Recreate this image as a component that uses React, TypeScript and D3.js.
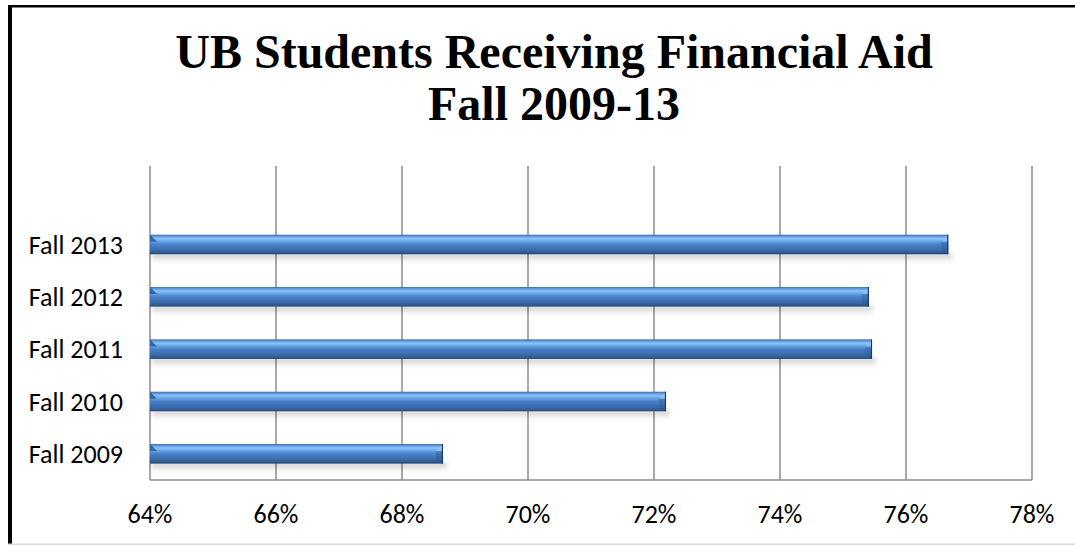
import React from "react";
import * as d3 from "d3";

const categories = ["Fall 2013", "Fall 2012", "Fall 2011", "Fall 2010", "Fall 2009"];
const values = [76.67, 75.41, 75.46, 72.19, 68.65];
const xTicks = [64, 66, 68, 70, 72, 74, 76, 78];
const titleLines = ["UB Students Receiving Financial Aid", "Fall 2009-13"];

const W = 1075;
const H = 545;
const plot = { left: 150, right: 1032, top: 166, bottom: 480 };

export default function App() {
  const x = d3.scaleLinear().domain([64, 78]).range([plot.left, plot.right]);
  const y = d3
    .scaleBand<string>()
    .domain(["", ...categories])
    .range([plot.top, plot.bottom])
    .paddingInner(0.627)
    .paddingOuter(0.3135);
  const bw = y.bandwidth();
  const labelFont = "Carlito, Calibri, 'Open Sans', sans-serif";

  return (
    <svg
      width={W}
      height={H}
      style={{ position: "absolute", left: 0, top: 0, background: "#fff" }}
    >
      <defs>
        <linearGradient id="barGrad" x1="0" y1="0" x2="0" y2="1">
          <stop offset="0" stopColor="#2f5c98" />
          <stop offset="0.07" stopColor="#5a95dc" />
          <stop offset="0.2" stopColor="#8cc4f7" />
          <stop offset="0.34" stopColor="#66a2e6" />
          <stop offset="0.5" stopColor="#4a80c6" />
          <stop offset="0.8" stopColor="#3a69aa" />
          <stop offset="0.92" stopColor="#305b93" />
          <stop offset="1" stopColor="#1f3d66" />
        </linearGradient>
        <linearGradient id="shadowGrad" x1="0" y1="0" x2="0" y2="1">
          <stop offset="0" stopColor="#000" stopOpacity="0.22" />
          <stop offset="1" stopColor="#000" stopOpacity="0" />
        </linearGradient>
        <filter id="blur" x="-5%" y="-50%" width="110%" height="200%">
          <feGaussianBlur stdDeviation="2" />
        </filter>
      </defs>

      {/* outer frame */}
      <rect x={8} y={5} width={W - 8} height={2.5} fill="#000" />
      <rect x={8} y={5} width={4} height={H - 5} fill="#000" />
      <rect x={8} y={543.5} width={W - 8} height={1.5} fill="#d9d9d9" />

      {/* title */}
      <g fontFamily="'Liberation Serif', 'Times New Roman', serif" fontWeight="bold" fontSize={48} textAnchor="middle" fill="#000">
        <text x={554} y={68}>{titleLines[0]}</text>
        <text x={554} y={120}>{titleLines[1]}</text>
      </g>

      {/* gridlines */}
      {xTicks.map((t) => (
        <line
          key={t}
          x1={x(t)}
          x2={x(t)}
          y1={plot.top}
          y2={plot.bottom}
          stroke="#8c8c8c"
          strokeWidth={1.5}
        />
      ))}
      <line x1={plot.left} x2={plot.right} y1={plot.bottom} y2={plot.bottom} stroke="#8c8c8c" strokeWidth={1.5} />

      {/* bars */}
      {categories.map((c, i) => {
        const y0 = y(c)!;
        const x0 = x(64);
        const x1 = x(values[i]);
        const bev = 7;
        return (
          <g key={c}>
            <rect
              x={x0 + 2}
              y={y0 + bw - 1}
              width={x1 - x0 + 2}
              height={9}
              fill="url(#shadowGrad)"
              filter="url(#blur)"
            />
            <rect x={x0} y={y0} width={x1 - x0} height={bw} fill="url(#barGrad)" />
            {/* left bevel */}
            <polygon
              points={`${x0},${y0} ${x0 + bev},${y0 + bev} ${x0},${y0 + bev}`}
              fill="#2e5c9a"
              opacity={0.9}
            />
            {/* right bevel */}
            <polygon
              points={`${x1},${y0} ${x1 - bev},${y0 + bev} ${x1},${y0 + bev}`}
              fill="#8ec4f5"
              opacity={0.8}
            />
            <polygon
              points={`${x1},${y0 + bev} ${x1 - bev},${y0 + bev} ${x1 - bev},${y0 + bw - 1.5} ${x1},${y0 + bw}`}
              fill="#2b5690"
              opacity={0.35}
            />
            <line x1={x1 - 0.5} x2={x1 - 0.5} y1={y0} y2={y0 + bw} stroke="#1c3a63" strokeWidth={1.2} />
          </g>
        );
      })}

      {/* category labels */}
      <g fontFamily={labelFont} fontSize={26} fill="#000" textAnchor="end">
        {categories.map((c) => (
          <text key={c} x={123} y={y(c)! + bw / 2} dominantBaseline="central">
            {c}
          </text>
        ))}
      </g>

      {/* x tick labels */}
      <g fontFamily={labelFont} fontSize={26} fill="#000" textAnchor="middle">
        {xTicks.map((t) => (
          <text key={t} x={x(t)} y={523}>
            {d3.format(".0f")(t) + "%"}
          </text>
        ))}
      </g>
    </svg>
  );
}
